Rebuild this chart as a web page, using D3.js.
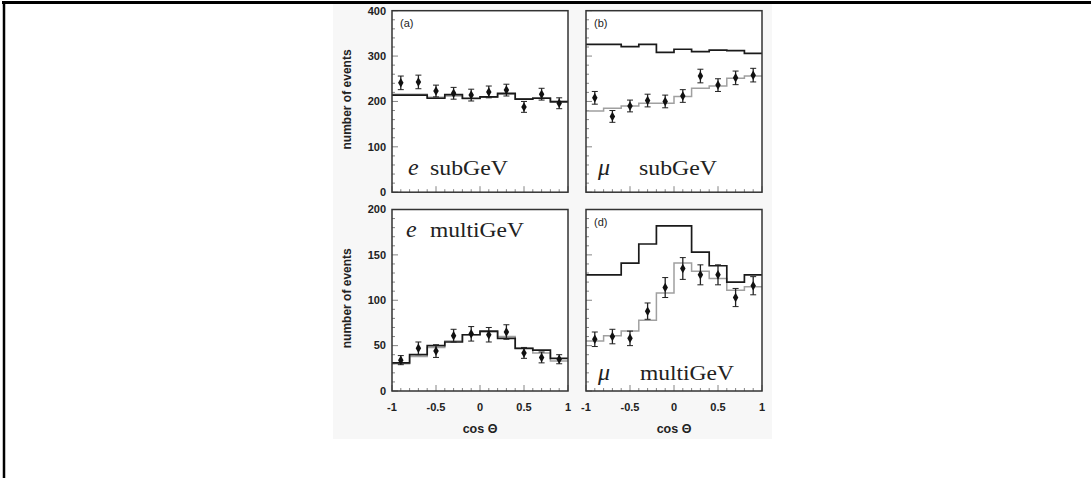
<!DOCTYPE html>
<html><head><meta charset="utf-8">
<script src="https://cdn.jsdelivr.net/npm/d3@7"></script>
<style>html,body{margin:0;padding:0;background:#fff;}svg{display:block;}</style>
</head><body>
<script>
// ---- data ----
const binEdges = [-1,-0.8,-0.6,-0.4,-0.2,0,0.2,0.4,0.6,0.8,1];
const binCenters = [-0.9,-0.7,-0.5,-0.3,-0.1,0.1,0.3,0.5,0.7,0.9];
const xTicks = [-1,-0.5,0,0.5,1];
const xTickLabels = ["-1","-0.5","0","0.5","1"];
const yTicksTop = [0,100,200,300,400];
const yTicksBottom = [0,50,100,150,200];

const aNoOsc = [214,214,207,215,207,210,218,205,207,199];
const aOsc   = [216,216,209,212,206,209,216,206,208,201];
const aData  = [241,243,223,218,214,221,225,188,216,196];
const aErr   = [15,15,13,13,13,13,13,12,13,12];

const bNoOsc = [326,326,321,326,308,315,310,313,312,306];
const bOsc   = [179,185,190,196,196,211,229,234,251,256];
const bData  = [208,167,190,202,200,212,256,236,252,258];
const bErr   = [14,13,13,14,14,14,15,14,15,15];

const cNoOsc = [31,40,50,54,62,66,58,47,45,36];
const cOsc   = [30,38,48,55,62,65,60,47,42,33];
const cData  = [34,47,44,61,63,62,65,42,37,35];
const cErr   = [5,7,7,7,8,8,8,6,6,5];

const dNoOsc = [128,128,141,162,182,182,153,138,120,128];
const dOsc   = [55,61,66,78,108,141,132,124,111,115];
const dData  = [57,60,58,88,114,135,128,128,103,116];
const dErr   = [8,8,8,9,11,12,11,11,10,10];

const panelLabels = ["(a)","(b)","","(d)"];
const flavours = ["e","μ","e","μ"];
const energies = ["subGeV","subGeV","multiGeV","multiGeV"];
const yLabel = "number of events";
const xLabel = "cos Θ";

// ---- layout ----
const W = 1091, H = 478;
const svg = d3.select("body").append("svg").attr("width",W).attr("height",H);
svg.append("rect").attr("x",333).attr("y",4).attr("width",439).attr("height",435).attr("fill","#f7f7f7");
svg.append("line").attr("x1",2).attr("x2",W).attr("y1",2.5).attr("y2",2.5).attr("stroke","#000").attr("stroke-width",3);
svg.append("line").attr("x1",4).attr("x2",4).attr("y1",1).attr("y2",H).attr("stroke","#000").attr("stroke-width",2.5);

const pw = 176, ph = 181.5;
const panels = [
  {x:392, y:10.7, max:400, ticks:yTicksTop, minor:20, noosc:aNoOsc, osc:aOsc, data:aData, err:aErr, yLab:true, xLab:false, textY:175},
  {x:586, y:10.7, max:400, ticks:yTicksTop, minor:20, noosc:bNoOsc, osc:bOsc, data:bData, err:bErr, yLab:false, xLab:false, textY:175},
  {x:392, y:209.5, max:200, ticks:yTicksBottom, minor:10, noosc:cNoOsc, osc:cOsc, data:cData, err:cErr, yLab:true, xLab:true, textY:237},
  {x:586, y:209.5, max:200, ticks:yTicksBottom, minor:10, noosc:dNoOsc, osc:dOsc, data:dData, err:dErr, yLab:false, xLab:true, textY:380}
];
const textX = [[408,430],[598,639],[406,430],[598,640]];
const textW = [78,78,94,94];
const sans = "Liberation Sans, Arial, sans-serif";

panels.forEach((p,i)=>{
  const g = svg.append("g").attr("transform",`translate(${p.x},${p.y})`);
  const x = d3.scaleLinear().domain([-1,1]).range([0,pw]);
  const y = d3.scaleLinear().domain([0,p.max]).range([ph,0]);
  g.append("rect").attr("width",pw).attr("height",ph).attr("fill","#fff");

  // minor/major ticks (inward)
  const xMinor = d3.range(-1,1.0001,0.1);
  g.selectAll(".xt").data(xMinor).join("line")
    .attr("x1",d=>x(d)).attr("x2",d=>x(d))
    .attr("y1",ph).attr("y2",d=>ph-(Math.abs(d*2-Math.round(d*2))<1e-6?6:3))
    .attr("stroke","#666").attr("stroke-width",0.8);
  const yMinor = d3.range(0,p.max+0.001,p.minor);
  g.selectAll(".yt").data(yMinor).join("line")
    .attr("y1",d=>y(d)).attr("y2",d=>y(d))
    .attr("x1",0).attr("x2",d=>p.ticks.includes(d)?6:3)
    .attr("stroke","#666").attr("stroke-width",0.8);

  // histograms
  const line = d3.line().x(d=>x(d[0])).y(d=>y(d[1])).curve(d3.curveStepAfter);
  const mk = vals => binEdges.map((e,k)=>[e, vals[Math.min(k,vals.length-1)]]);
  g.append("path").attr("d",line(mk(p.osc))).attr("fill","none").attr("stroke","#a0a0a0").attr("stroke-width",1.5);
  g.append("path").attr("d",line(mk(p.noosc))).attr("fill","none").attr("stroke","#1a1a1a").attr("stroke-width",1.7);

  // data points with error bars
  const pts = binCenters.map((c,k)=>({c, v:p.data[k], e:p.err[k]}));
  const eg = g.selectAll(".pt").data(pts).join("g");
  eg.append("line").attr("x1",d=>x(d.c)).attr("x2",d=>x(d.c)).attr("y1",d=>y(d.v-d.e)).attr("y2",d=>y(d.v+d.e)).attr("stroke","#222").attr("stroke-width",1.3);
  eg.append("line").attr("x1",d=>x(d.c)-3).attr("x2",d=>x(d.c)+3).attr("y1",d=>y(d.v-d.e)).attr("y2",d=>y(d.v-d.e)).attr("stroke","#222").attr("stroke-width",1);
  eg.append("line").attr("x1",d=>x(d.c)-3).attr("x2",d=>x(d.c)+3).attr("y1",d=>y(d.v+d.e)).attr("y2",d=>y(d.v+d.e)).attr("stroke","#222").attr("stroke-width",1);
  eg.append("path").attr("d",d3.symbol(d3.symbolDiamond,26)()).attr("transform",d=>`translate(${x(d.c)},${y(d.v)})`).attr("fill","#111");

  // frame
  g.append("rect").attr("width",pw).attr("height",ph).attr("fill","none").attr("stroke","#333").attr("stroke-width",1.5);

  // tick labels
  if(p.yLab){
    g.selectAll(".yl").data(p.ticks).join("text")
      .attr("x",-6).attr("y",d=>y(d)).attr("dy","0.35em").attr("text-anchor","end")
      .attr("font-family",sans).attr("font-weight","bold").attr("font-size",11).attr("fill","#222")
      .text(d=>d);
    g.append("text").attr("transform",`translate(-45,${ph/2-2}) rotate(-90)`).attr("text-anchor","middle").attr("dy","0.35em")
      .attr("font-family",sans).attr("font-weight","bold").attr("font-size",12).attr("fill","#222")
      .text(yLabel);
  }
  if(p.xLab){
    g.selectAll(".xl").data(xTicks).join("text")
      .attr("x",d=>x(d)).attr("y",ph+20).attr("text-anchor","middle")
      .attr("font-family",sans).attr("font-weight","bold").attr("font-size",11).attr("fill","#222")
      .text((d,k)=>xTickLabels[k]);
    g.append("text").attr("x",pw/2).attr("y",ph+42).attr("text-anchor","middle")
      .attr("font-family",sans).attr("font-weight","bold").attr("font-size",12.5).attr("fill","#222")
      .text(xLabel);
  }
  // panel label
  if(panelLabels[i]) g.append("text").attr("x",8).attr("y",16).attr("font-family",sans).attr("font-size",11).attr("fill","#222").text(panelLabels[i]);

  // annotation
  svg.append("text").attr("x",textX[i][0]).attr("y",p.textY).attr("font-family","Liberation Serif, serif").attr("font-style","italic").attr("font-size",24).attr("fill","#222").text(flavours[i]);
  svg.append("text").attr("x",textX[i][1]).attr("y",p.textY).attr("font-family","Liberation Serif, serif").attr("font-size",20).attr("fill","#222")
    .attr("textLength",textW[i]).attr("lengthAdjust","spacingAndGlyphs").text(energies[i]);
});
</script>
</body></html>
